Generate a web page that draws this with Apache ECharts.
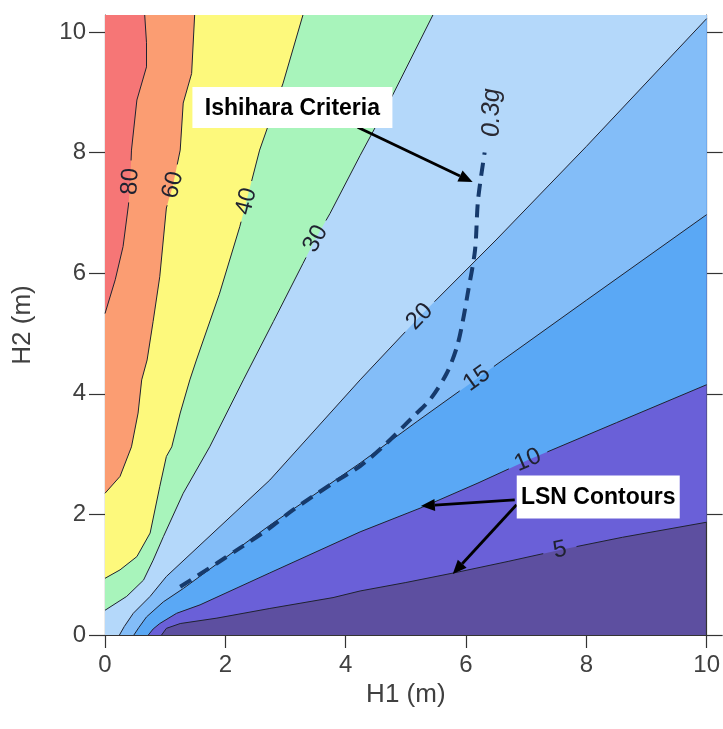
<!DOCTYPE html>
<html><head><meta charset="utf-8">
<script src="https://cdn.jsdelivr.net/npm/echarts@6/dist/echarts.min.js"></script>
<style>html,body{margin:0;padding:0;background:#fff}#c{width:723px;height:729px}</style>
</head><body><div id="c"></div>
<script>
// ---- data ----
const levels = [5, 10, 15, 20, 30, 40, 60, 80];
const bandColors = ['#5d4fa0','#6a60d8','#5aa8f5','#83bdf8','#b4d8fa','#a8f4bb','#fdf97c','#fb9d72','#f67676'];
const c5  = [[0.94,0],[1.02,0.11],[1.25,0.19],[1.86,0.28],[2.74,0.44],[3.79,0.62],[4.24,0.73],[5.0,0.87],[5.85,1.04],[6.7,1.22],[7.56,1.41],[8.6,1.62],[10,1.87]];
const c10 = [[0.72,0],[0.80,0.10],[0.91,0.19],[1.19,0.36],[1.58,0.50],[2.74,1.03],[4.24,1.71],[5.28,2.12],[6.2,2.52],[7.03,2.90],[8.5,3.52],[10,4.15]];
const c15 = [[0.48,0],[0.56,0.12],[0.69,0.30],[0.97,0.55],[1.30,0.77],[2.74,1.82],[4.24,2.85],[5.2,3.55],[6.18,4.25],[8.0,5.55],[10,6.97]];
const c20 = [[0.24,0],[0.32,0.14],[0.47,0.36],[0.75,0.64],[1.02,0.97],[2.74,2.57],[4.24,4.23],[5.23,5.28],[6.5,6.55],[8.0,8.1],[10,10.22]];
const c30 = [[0,0.41],[0.36,0.64],[0.64,0.91],[0.80,1.24],[0.97,1.63],[1.30,2.35],[1.74,3.12],[2.30,4.23],[2.8,5.2],[3.29,6.16],[3.50,6.57],[3.74,6.99],[4.24,7.95],[4.78,8.95],[5.45,10.28]];
const c40 = [[0,0.94],[0.25,1.08],[0.53,1.30],[0.75,1.69],[0.91,2.46],[1.02,2.96],[1.11,3.12],[1.25,3.68],[1.41,4.23],[1.52,4.56],[1.9,5.65],[2.24,6.77],[2.35,7.19],[2.57,8.04],[2.96,9.15],[3.29,10.28]];
const c60 = [[0,2.35],[0.25,2.63],[0.44,3.12],[0.55,3.68],[0.61,4.23],[0.70,4.56],[0.80,5.2],[0.91,5.94],[1.02,7.08],[1.13,7.46],[1.25,8.04],[1.30,8.82],[1.44,9.31],[1.49,10.28]];
const c80 = [[0,5.33],[0.17,5.89],[0.30,6.44],[0.39,7.13],[0.42,7.52],[0.44,8.04],[0.53,8.87],[0.69,9.42],[0.69,9.82],[0.66,10.28]];
const contours = [c5, c10, c15, c20, c30, c40, c60, c80];
const contourLabelPos = [[7.56,1.41],[7.03,2.90],[6.18,4.25],[5.23,5.28],[3.50,6.57],[2.35,7.19],[1.13,7.46],[0.42,7.52]];
const criteria = [[1.25,0.80],[1.86,1.19],[2.24,1.44],[2.69,1.74],[3.12,2.07],[3.79,2.52],[4.24,2.80],[4.68,3.18],[5.12,3.62],[5.40,3.90],[5.68,4.34],[5.85,4.78],[5.95,5.22],[6.03,5.67],[6.15,6.38],[6.20,7.21],[6.31,8.0]];
const criteriaLabel = '0.3g';
const criteriaLabelPos = [6.43, 8.66];
const xTicks = [0, 2, 4, 6, 8, 10];
const yTicks = [0, 2, 4, 6, 8, 10];
const X_MAX = 10, Y_MAX = 10.28;
const boxTexts = ['Ishihara Criteria', 'LSN Contours'];
const boxAnchors = [[3.115, 8.748], [8.198, 2.289]];
const arrowFrom = [[4.20, 8.42], [6.81, 2.24], [6.84, 2.16]];
const arrowTo   = [[6.11, 7.51], [5.25, 2.14], [5.78, 1.01]];

// ---- styles ----
const boxSizes = [[200, 41], [163, 43]];
const FONT = '"Liberation Sans", Arial, sans-serif';

function clipPolyline(pts, c, R) {
  const out = []; let cur = [];
  for (let k = 0; k < pts.length - 1; k++) {
    const a = pts[k], b = pts[k + 1];
    const dx = b[0] - a[0], dy = b[1] - a[1], fx = a[0] - c[0], fy = a[1] - c[1];
    const A = dx * dx + dy * dy, B = 2 * (fx * dx + fy * dy), C = fx * fx + fy * fy - R * R;
    const disc = B * B - 4 * A * C;
    let t0 = 2, t1 = 2;
    if (disc > 0 && A > 0) { const s = Math.sqrt(disc); t0 = (-B - s) / (2 * A); t1 = (-B + s) / (2 * A); }
    const lerp = t => [a[0] + dx * t, a[1] + dy * t];
    if (t0 >= 1 || t1 <= 0) {
      if (!cur.length) cur.push(a);
      cur.push(b);
    } else {
      if (t0 > 0) { if (!cur.length) cur.push(a); cur.push(lerp(t0)); }
      if (cur.length > 1) out.push(cur);
      cur = [];
      if (t1 < 1) { cur.push(lerp(t1)); cur.push(b); }
    }
  }
  if (cur.length > 1) out.push(cur);
  return out;
}

function renderContour(params, api) {
  const i = api.value(2);
  const data = contours[i];
  const pts = data.map(p => api.coord(p));
  const first = data[0], last = data[data.length - 1];
  const poly = pts.slice();
  if (last[0] >= X_MAX) poly.push(api.coord([X_MAX, Y_MAX]));
  poly.push(api.coord([0, Y_MAX]));
  if (first[1] <= 0) poly.push(api.coord([0, 0]));
  const children = [{ type: 'polygon', z2: i, shape: { points: poly }, style: { fill: bandColors[i + 1] } }];
  const lp = api.coord([api.value(0), api.value(1)]);
  const segs = clipPolyline(pts, lp, levels[i] < 10 ? 17 : 21);
  segs.forEach(s => children.push({ type: 'polyline', z2: 50, shape: { points: s }, style: { stroke: '#1f2230', lineWidth: 1, fill: null } }));
  let best = 0, bd = Infinity;
  pts.forEach((p, k) => { const d = Math.hypot(p[0] - lp[0], p[1] - lp[1]); if (d < bd) { bd = d; best = k; } });
  const pa = pts[Math.max(0, best - 1)], pb = pts[Math.min(pts.length - 1, best + 1)];
  let ang = Math.atan2(-(pb[1] - pa[1]), pb[0] - pa[0]);
  if (ang > Math.PI / 2) ang -= Math.PI;
  if (ang < -Math.PI / 2) ang += Math.PI;
  children.push({ type: 'text', z2: 60, x: lp[0], y: lp[1], rotation: ang,
    style: { text: String(levels[i]), font: '24px ' + FONT, fill: '#1f2230', align: 'center', verticalAlign: 'middle' } });
  return { type: 'group', children };
}

function renderArrow(params, api) {
  const i = api.value(2);
  const a = api.coord(arrowFrom[i]), b = api.coord(arrowTo[i]);
  const ang = Math.atan2(b[1] - a[1], b[0] - a[0]);
  const L = 14, W = 6;
  const base = [b[0] - L * Math.cos(ang), b[1] - L * Math.sin(ang)];
  const nx = -Math.sin(ang), ny = Math.cos(ang);
  return { type: 'group', children: [
    { type: 'line', shape: { x1: a[0], y1: a[1], x2: base[0], y2: base[1] }, style: { stroke: '#000', lineWidth: 2.8 } },
    { type: 'polygon', shape: { points: [b, [base[0] + nx * W, base[1] + ny * W], [base[0] - nx * W, base[1] - ny * W]] }, style: { fill: '#000' } }
  ]};
}

function renderBox(params, api) {
  const i = api.value(2);
  const c = api.coord([api.value(0), api.value(1)]);
  const w = boxSizes[i][0], h = boxSizes[i][1];
  return { type: 'group', children: [
    { type: 'rect', shape: { x: c[0] - w / 2, y: c[1] - h / 2, width: w, height: h }, style: { fill: '#fff' } },
    { type: 'text', x: c[0], y: c[1] + 1, style: { text: boxTexts[i], font: 'bold 23px ' + FONT, fill: '#000', align: 'center', verticalAlign: 'middle' } }
  ]};
}

function renderCritLabel(params, api) {
  const c = api.coord([api.value(0), api.value(1)]);
  return { type: 'text', x: c[0], y: c[1], rotation: Math.PI / 2,
    style: { text: criteriaLabel, font: 'italic 25px ' + FONT, fill: '#2a2a33', align: 'center', verticalAlign: 'middle' } };
}

const chart = echarts.init(document.getElementById('c'), null, { renderer: 'canvas' });
const axisCommon = {
  type: 'value', min: 0, splitLine: { show: false },
  axisLine: { show: true, onZero: false, lineStyle: { color: '#333', width: 1.2 } },
  axisTick: { show: true, length: 14, lineStyle: { color: '#333', width: 1.2 } },
  axisLabel: { color: '#404040', fontSize: 24, fontFamily: FONT },
  nameTextStyle: { color: '#404040', fontSize: 26, fontFamily: FONT }
};
chart.setOption({
  animation: false,
  backgroundColor: '#fff',
  grid: { left: 105, right: 16, top: 15, bottom: 94, show: true, backgroundColor: bandColors[0], borderWidth: 0 },
  xAxis: Object.assign({}, axisCommon, {
    max: X_MAX, interval: 2, name: 'H1 (m)', nameLocation: 'middle', nameGap: 42,
    axisTick: Object.assign({}, axisCommon.axisTick, { length: 13, customValues: xTicks }),
    axisLabel: Object.assign({}, axisCommon.axisLabel, { margin: 18, customValues: xTicks })
  }),
  yAxis: [
    Object.assign({}, axisCommon, {
      max: Y_MAX, name: 'H2 (m)', nameLocation: 'middle', nameGap: 69,
      axisTick: Object.assign({}, axisCommon.axisTick, { length: 16, customValues: yTicks }),
      axisLabel: Object.assign({}, axisCommon.axisLabel, { margin: 19, customValues: yTicks })
    }),
    Object.assign({}, axisCommon, {
      max: Y_MAX, position: 'right',
      axisTick: Object.assign({}, axisCommon.axisTick, { length: 16, customValues: yTicks }),
      axisLabel: { show: false }
    })
  ],
  series: [
    { type: 'custom', coordinateSystem: 'cartesian2d', z: 2, silent: true,
      data: contourLabelPos.map((p, i) => [p[0], p[1], i]), renderItem: renderContour },
    { type: 'line', z: 3, silent: true, data: criteria, symbol: 'none', smooth: 0.3,
      lineStyle: { color: '#163a6c', width: 4, type: [13, 8], cap: 'butt' } },
    { type: 'custom', coordinateSystem: 'cartesian2d', z: 4, silent: true,
      data: [[criteriaLabelPos[0], criteriaLabelPos[1], 0]], renderItem: renderCritLabel },
    { type: 'custom', coordinateSystem: 'cartesian2d', z: 5, silent: true,
      data: arrowFrom.map((p, i) => [p[0], p[1], i]), renderItem: renderArrow },
    { type: 'custom', coordinateSystem: 'cartesian2d', z: 6, silent: true,
      data: boxAnchors.map((p, i) => [p[0], p[1], i]), renderItem: renderBox }
  ]
});
</script></body></html>
